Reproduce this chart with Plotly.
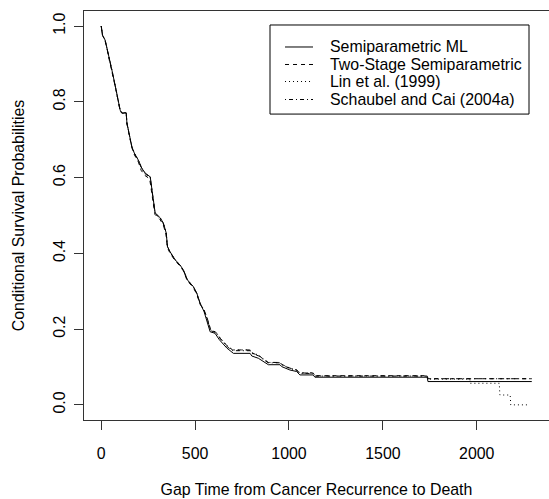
import plotly.graph_objects as go

# ---- data ----
ml_t = [0, 7, 21, 30, 44, 57, 74, 87, 101, 110, 133, 137, 151, 163, 176, 198, 216, 234, 261, 270,
        278, 287, 314, 331, 346, 353, 367, 394, 420, 438, 459, 491, 509, 527, 548, 562, 580, 606,
        629, 669, 704, 793, 802, 837, 863, 890, 952, 961, 1005, 1041, 1058, 1129, 1138, 1736, 1740, 2293]
ml_s = [1.0, 0.976, 0.963, 0.945, 0.910, 0.884, 0.844, 0.813, 0.778, 0.771, 0.771, 0.744, 0.708, 0.682,
        0.665, 0.646, 0.625, 0.612, 0.602, 0.567, 0.533, 0.507, 0.494, 0.480, 0.454, 0.418, 0.404, 0.383,
        0.369, 0.356, 0.330, 0.312, 0.295, 0.268, 0.246, 0.224, 0.193, 0.189, 0.172, 0.150, 0.136, 0.136,
        0.129, 0.123, 0.114, 0.106, 0.106, 0.101, 0.092, 0.088, 0.079, 0.079, 0.073, 0.073, 0.0615, 0.0615]

ts_t = [0, 7, 21, 30, 44, 57, 74, 87, 101, 110, 133, 137, 151, 163, 176, 198, 213, 232, 258, 268,
        276, 286, 312, 330, 345, 352, 366, 393, 419, 437, 458, 490, 508, 526, 548, 565, 583, 610,
        635, 672, 700, 793, 802, 840, 865, 890, 952, 961, 1005, 1041, 1058, 1129, 1138, 1736, 1740, 2293]
ts_s = [1.0, 0.976, 0.960, 0.943, 0.908, 0.882, 0.842, 0.811, 0.776, 0.770, 0.770, 0.742, 0.705, 0.679,
        0.661, 0.641, 0.619, 0.606, 0.597, 0.562, 0.529, 0.503, 0.490, 0.476, 0.451, 0.416, 0.401, 0.381,
        0.367, 0.354, 0.328, 0.310, 0.293, 0.266, 0.250, 0.228, 0.198, 0.192, 0.175, 0.155, 0.145, 0.145,
        0.137, 0.130, 0.120, 0.112, 0.112, 0.107, 0.097, 0.092, 0.084, 0.084, 0.077, 0.077, 0.069, 0.069]

lin_t = [0, 7, 21, 30, 44, 57, 74, 87, 101, 110, 133, 137, 151, 163, 176, 198, 216, 234, 261, 270,
         278, 287, 314, 331, 346, 353, 367, 394, 420, 438, 459, 491, 509, 527, 548, 565, 583, 610,
         635, 672, 700, 793, 802, 840, 865, 890, 952, 961, 1005, 1041, 1058, 1129, 1138, 1736, 1740,
         1963, 1966, 2120, 2123, 2178, 2181, 2282]
lin_s = [1.0, 0.976, 0.963, 0.945, 0.910, 0.884, 0.844, 0.813, 0.778, 0.771, 0.771, 0.744, 0.708, 0.682,
         0.665, 0.646, 0.625, 0.612, 0.602, 0.567, 0.533, 0.507, 0.494, 0.480, 0.454, 0.418, 0.404, 0.383,
         0.369, 0.356, 0.330, 0.312, 0.295, 0.268, 0.250, 0.228, 0.198, 0.192, 0.176, 0.156, 0.145, 0.145,
         0.138, 0.131, 0.121, 0.112, 0.112, 0.107, 0.097, 0.092, 0.085, 0.085, 0.076, 0.076, 0.068, 0.068,
         0.057, 0.057, 0.026, 0.026, 0.0, 0.0]

sc_t = [0, 7, 21, 30, 44, 57, 74, 87, 101, 110, 133, 137, 151, 163, 176, 198, 216, 234, 261, 270,
        278, 287, 314, 331, 346, 353, 367, 394, 420, 438, 459, 491, 509, 527, 548, 565, 583, 610,
        635, 672, 700, 793, 802, 840, 865, 890, 952, 961, 1005, 1041, 1058, 1129, 1138, 1736, 1740, 2293]
sc_s = [1.0, 0.976, 0.962, 0.944, 0.909, 0.883, 0.843, 0.812, 0.777, 0.771, 0.771, 0.743, 0.707, 0.681,
        0.664, 0.644, 0.623, 0.610, 0.600, 0.565, 0.531, 0.505, 0.492, 0.478, 0.452, 0.417, 0.403, 0.382,
        0.368, 0.355, 0.329, 0.311, 0.294, 0.267, 0.248, 0.226, 0.196, 0.191, 0.174, 0.153, 0.143, 0.143,
        0.136, 0.129, 0.119, 0.111, 0.111, 0.106, 0.096, 0.091, 0.083, 0.083, 0.076, 0.076, 0.069, 0.069]

series_names = ["Semiparametric ML", "Two-Stage Semiparametric", "Lin et al. (1999)", "Schaubel and Cai (2004a)"]
x_ticks = [0, 500, 1000, 1500, 2000]
y_ticks = [0.0, 0.2, 0.4, 0.6, 0.8, 1.0]
y_tick_labels = ["0.0", "0.2", "0.4", "0.6", "0.8", "1.0"]

FONT = "Arial"
FS = 15.9
AX = "#333333"

fig = go.Figure()
dashes = ["solid", "4px,4px", "1px,3px", "1px,3px,4px,3px"]
for name, t, s, d in zip(series_names, [ml_t, ts_t, lin_t, sc_t], [ml_s, ts_s, lin_s, sc_s], dashes):
    fig.add_trace(go.Scatter(x=t, y=s, mode="lines", name=name, showlegend=False,
                             line=dict(color="black", width=1, dash=d)))

# legend box drawn in paper coordinates (R-style legend)
LEG_X0, LEG_X1, LEG_Y0, LEG_Y1 = 0.400, 0.957, 0.748, 0.9658
SAMPLE_X0, SAMPLE_X1, TEXT_X = 0.4323, 0.4925, 0.5247
ROW_Y = [0.9120, 0.8692, 0.8276, 0.7836]
fig.add_shape(type="rect", xref="paper", yref="paper", x0=LEG_X0, x1=LEG_X1, y0=LEG_Y0, y1=LEG_Y1,
              line=dict(color="black", width=1), fillcolor="white", layer="above")
for name, d, ry in zip(series_names, dashes, ROW_Y):
    fig.add_shape(type="line", xref="paper", yref="paper", x0=SAMPLE_X0, x1=SAMPLE_X1, y0=ry, y1=ry,
                  line=dict(color="black", width=1, dash=d), layer="above")
    fig.add_annotation(xref="paper", yref="paper", x=TEXT_X, y=ry, text=name, showarrow=False,
                       xanchor="left", yanchor="middle", font=dict(family=FONT, size=FS, color="black"))

fig.update_layout(
    width=549, height=499,
    margin=dict(l=84, r=0, t=11, b=79),
    paper_bgcolor="white", plot_bgcolor="white",
    font=dict(family=FONT, size=FS, color="black"),
    showlegend=False,
)
fig.update_xaxes(
    range=[-91.7, 2384.7], tickvals=x_ticks, ticks="outside", ticklen=9, tickcolor=AX,
    showline=True, linecolor=AX, linewidth=1, mirror=True, showgrid=False, zeroline=False,
    ticklabelstandoff=10,
    title=dict(text="Gap Time from Cancer Recurrence to Death", standoff=22,
               font=dict(family=FONT, size=FS, color="black")),
    tickfont=dict(family=FONT, size=FS),
)
fig.update_yaxes(
    range=[-0.04, 1.04], tickvals=y_ticks, ticktext=y_tick_labels, tickangle=-90,
    ticks="outside", ticklen=9, tickcolor=AX, ticklabelstandoff=3,
    showline=True, linecolor=AX, linewidth=1, mirror=False, showgrid=False, zeroline=False,
    title=dict(text="Conditional Survival Probabilities", standoff=22,
               font=dict(family=FONT, size=FS, color="black")),
    tickfont=dict(family=FONT, size=FS),
)

fig.write_html("out.html")
